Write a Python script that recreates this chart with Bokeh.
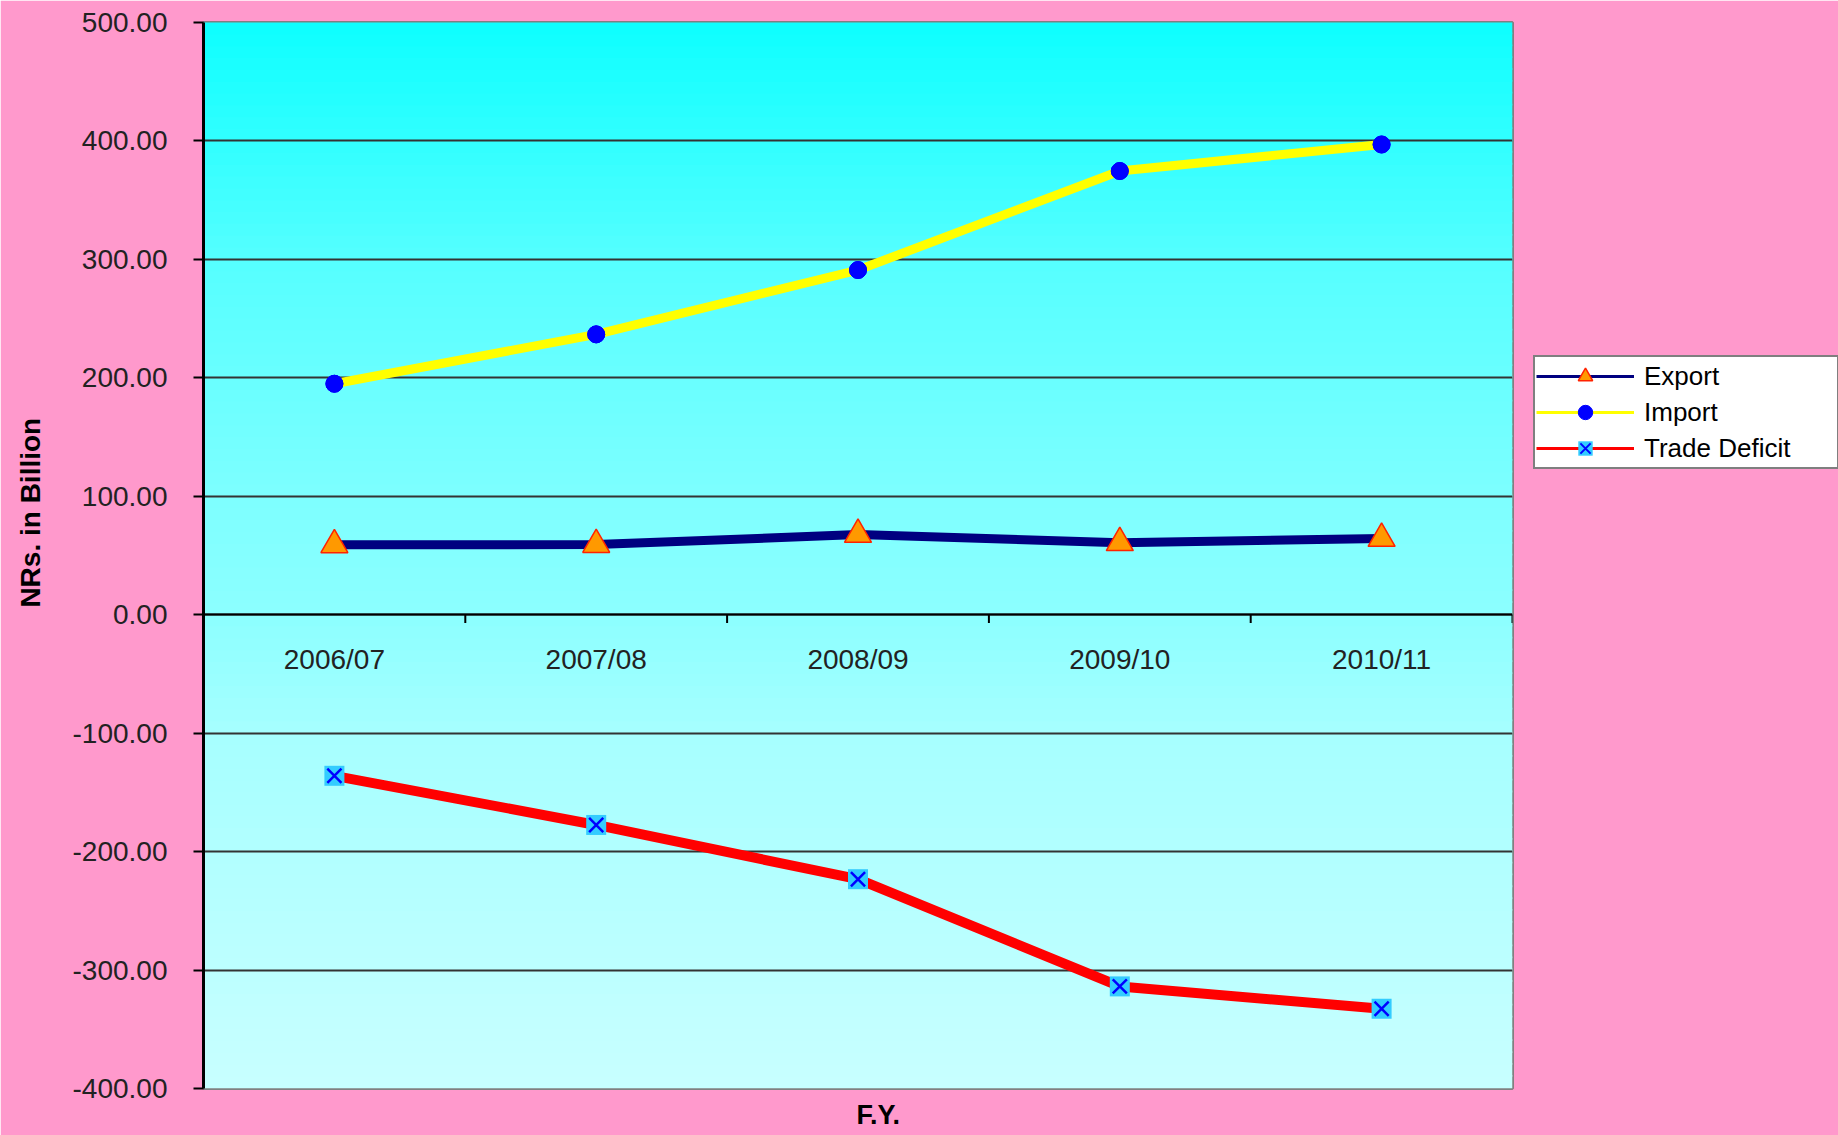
import numpy as np
from bokeh.plotting import figure
from bokeh.models import (FactorRange, Range1d, FixedTicker, NumeralTickFormatter,
                          BoxAnnotation, Legend, LegendItem, Title, ColumnDataSource)
from bokeh.embed import file_html
from bokeh.resources import INLINE

# ---- data (NRs. in Billion) ----
years = ["2006/07", "2007/08", "2008/09", "2009/10", "2010/11"]
export_vals = [59.0, 59.2, 67.7, 60.8, 64.3]
import_vals = [195.0, 236.7, 291.0, 374.6, 397.0]
deficit_vals = [-136.0, -177.5, -223.3, -313.8, -332.7]
y_ticks = [-400, -300, -200, -100, 0, 100, 200, 300, 400, 500]

FONT = "Liberation Sans"
PINK = "#FF99CC"

p = figure(x_range=FactorRange(factors=years), y_range=Range1d(-400, 500),
           frame_width=1309, frame_height=1066,
           min_border_left=203, min_border_right=326, min_border_top=22, min_border_bottom=47,
           output_backend="svg", toolbar_location=None,
           border_fill_color=PINK, background_fill_color="#CCFFFF")

# vertical gradient of the plot area (decoration)
stops_v = [-400, -100, 0, 100, 300, 500]
stops_r = [200, 166, 140, 125, 85, 13]
n = 90
edges = np.linspace(-400, 500, n + 1)
for i in range(n):
    mid = 0.5 * (edges[i] + edges[i + 1])
    r = int(round(np.interp(mid, stops_v, stops_r)))
    p.add_layout(BoxAnnotation(bottom=edges[i], top=edges[i + 1] + 1.5,
                               fill_color="#%02X%02X%02X" % (r, 255, 255), fill_alpha=1.0,
                               line_color=None, level="image"))

# grid
p.xgrid.visible = False
p.ygrid.ticker = FixedTicker(ticks=y_ticks)
p.ygrid.grid_line_color = "#333333"
p.ygrid.grid_line_width = 2

p.outline_line_color = "#808080"
p.outline_line_width = 3

# y axis
p.yaxis.ticker = FixedTicker(ticks=y_ticks)
p.yaxis.formatter = NumeralTickFormatter(format="0.00")
p.yaxis.minor_tick_line_color = None
p.yaxis.major_tick_in = 0
p.yaxis.major_tick_out = 10
p.yaxis.major_tick_line_color = "#000000"
p.yaxis.major_tick_line_width = 2
p.yaxis.axis_line_color = "#000000"
p.yaxis.axis_line_width = 3
p.yaxis.major_label_text_font = FONT
p.yaxis.major_label_text_font_size = "28px"
p.yaxis.major_label_text_color = "#222222"
p.yaxis.major_label_standoff = 26
p.yaxis.axis_label = "\u00a0" * 11 + "NRs. in Billion"
p.yaxis.axis_label_text_font = FONT
p.yaxis.axis_label_text_font_size = "28px"
p.yaxis.axis_label_text_font_style = "bold"
p.yaxis.axis_label_text_color = "#000000"
p.yaxis.axis_label_standoff = 24

# x axis drawn at y = 0
p.xaxis.fixed_location = 0
p.xaxis.axis_line_color = "#000000"
p.xaxis.axis_line_width = 2
p.xaxis.major_tick_line_color = None
p.xaxis.minor_tick_line_color = None
p.xaxis.major_label_text_font = FONT
p.xaxis.major_label_text_font_size = "28px"
p.xaxis.major_label_text_color = "#222222"
p.xaxis.major_label_standoff = 23

# category boundary tick marks below the zero line
bx = [(years[0], -0.5)] + [(y, 0.5) for y in years]
tick_src = ColumnDataSource(dict(x0=bx, x1=bx, y0=[0] * len(bx), y1=[-7] * len(bx)))
p.segment(x0="x0", y0="y0", x1="x1", y1="y1", source=tick_src, line_color="#000000", line_width=2)

# thin lines / small markers used as legend glyphs (hidden beneath the real marks)
le_line = p.line(years, export_vals, line_color="#000080", line_width=3)
li_line = p.line(years, import_vals, line_color="#FFFF00", line_width=3)
ld_line = p.line(years, deficit_vals, line_color="#FF0000", line_width=3)

# series lines
p.line(years, export_vals, line_color="#000080", line_width=9)
p.line(years, import_vals, line_color="#FFFF00", line_width=9)
p.line(years, deficit_vals, line_color="#FF0000", line_width=10)

le_mark = p.scatter(years, export_vals, marker="triangle", size=18, fill_color="#FF9900",
                    line_color="#FF2200", line_width=1.5)
li_mark = p.scatter(years, import_vals, marker="circle", size=17, fill_color="#0000FF",
                    line_color="#0000FF")
ld_sq = p.scatter(years, deficit_vals, marker="square", size=16, fill_color="#33CCFF", line_color=None)
ld_x = p.scatter(years, deficit_vals, marker="x", size=16, line_color="#0000FF", line_width=2)

# markers
p.scatter(years, export_vals, marker="triangle", size=27, fill_color="#FF9900",
          line_color="#FF2200", line_width=1.5)
p.scatter(years, import_vals, marker="circle", size=17, fill_color="#0000FF", line_color="#0000FF")
p.scatter(years, deficit_vals, marker="square", size=20, fill_color="#33CCFF", line_color=None)
p.scatter(years, deficit_vals, marker="x", size=20, line_color="#0000FF", line_width=2.5)

legend = Legend(items=[LegendItem(label="Export", renderers=[le_line, le_mark]),
                       LegendItem(label="Import", renderers=[li_line, li_mark]),
                       LegendItem(label="Trade Deficit", renderers=[ld_line, ld_sq, ld_x])],
                location=(21, 619))
legend.label_text_font = FONT
legend.label_text_font_size = "26px"
legend.label_text_color = "#000000"
legend.label_height = 36
legend.label_width = 192
legend.label_standoff = 10
legend.glyph_width = 98
legend.glyph_height = 36
legend.spacing = 0
legend.padding = 1
legend.margin = 11
legend.border_line_color = "#000000"
legend.border_line_width = 2
legend.background_fill_color = "#FFFFFF"
legend.background_fill_alpha = 1.0
p.add_layout(legend, "right")

# x axis title
p.add_layout(Title(text="F.Y.", align="left", offset=653, standoff=18,
                   text_font=FONT, text_font_size="27px", text_font_style="bold",
                   text_color="#000000"), "below")

open("out.html", "w").write(file_html(p, INLINE))
